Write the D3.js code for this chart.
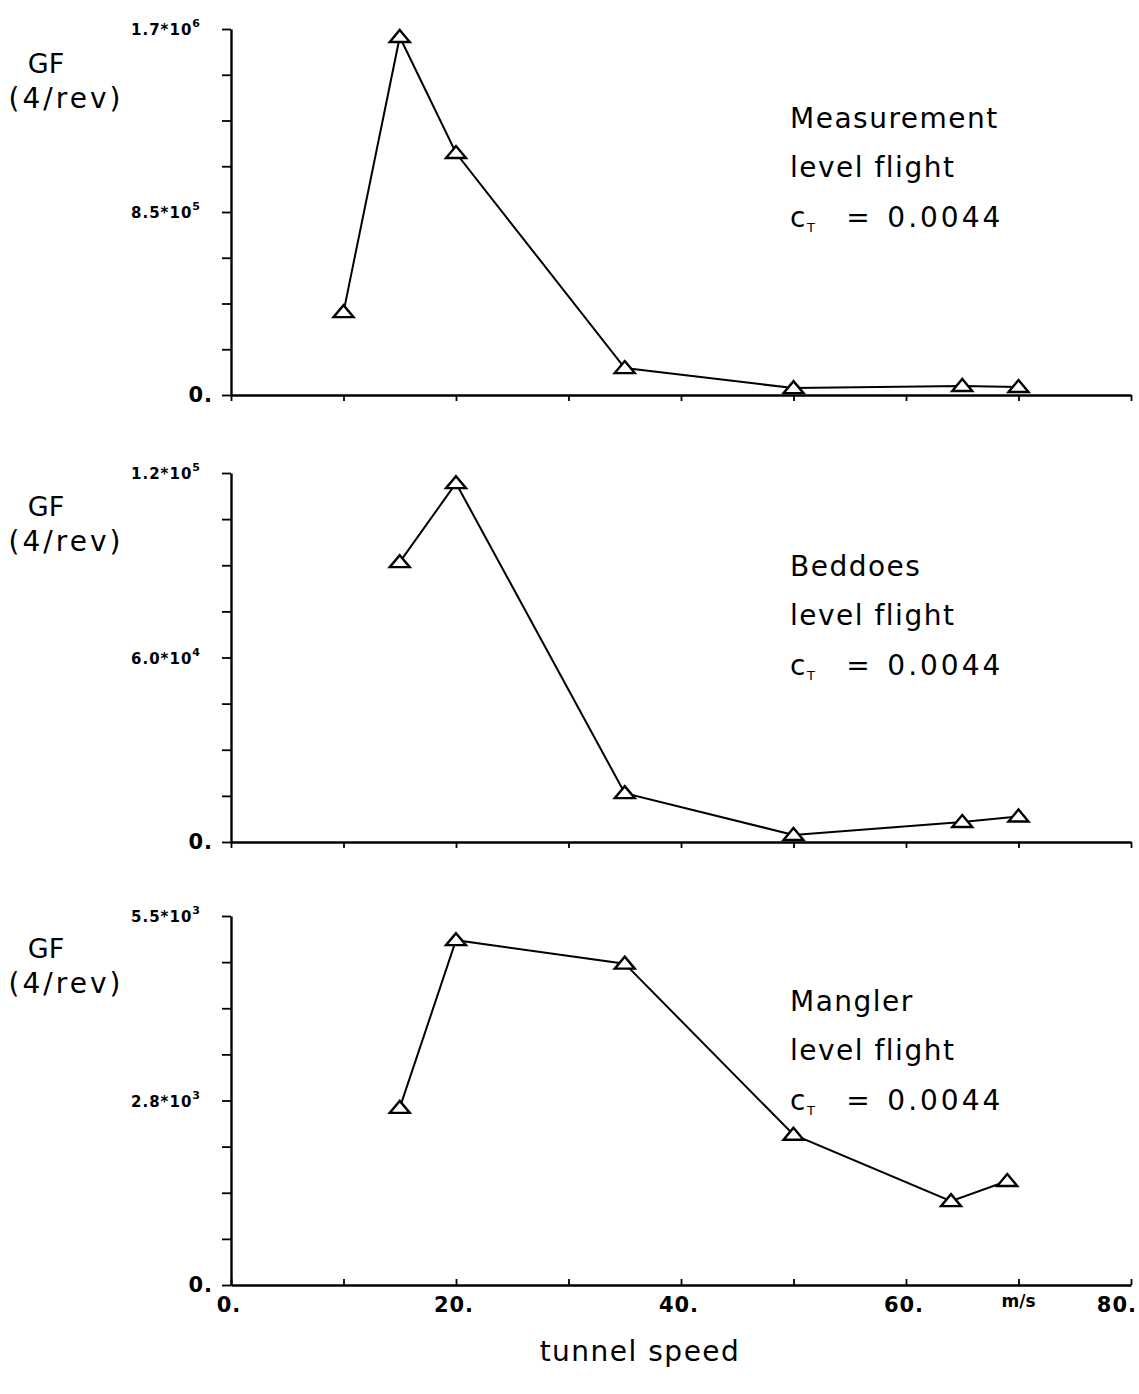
<!DOCTYPE html>
<html>
<head>
<meta charset="utf-8">
<script src="https://cdn.jsdelivr.net/npm/d3@7"></script>
<style>
  body { margin: 0; background: #fff; }
  svg text { font-family: "DejaVu Sans", sans-serif; fill: #000; }
</style>
</head>
<body>
<div id="chart"></div>
<script>
// tunnel speed axis (m/s)
var xTicks = [0, 10, 20, 30, 40, 50, 60, 70, 80];
var xLabels = ["0.", "", "20.", "", "40.", "", "60.", "", "80."];

// panel 1: measurement
var speeds1 = [10, 15, 20, 35, 50, 65, 70];
var gf1 = [385000, 1663000, 1124000, 125000, 32000, 42000, 37000];
var yMax1 = 1700000;
var yLabels1 = [["0.", ""], ["8.5*10", "5"], ["1.7*10", "6"]];
var text1 = ["Measurement", "level flight"];

// panel 2: Beddoes
var speeds2 = [15, 20, 35, 50, 65, 70];
var gf2 = [91000, 116700, 15900, 2300, 6500, 8300];
var yMax2 = 120000;
var yLabels2 = [["0.", ""], ["6.0*10", "4"], ["1.2*10", "5"]];
var text2 = ["Beddoes", "level flight"];

// panel 3: Mangler
var speeds3 = [15, 20, 35, 50, 64, 69];
var gf3 = [2640, 5140, 4790, 2240, 1250, 1550];
var yMax3 = 5500;
var yLabels3 = [["0.", ""], ["2.8*10", "3"], ["5.5*10", "3"]];
var text3 = ["Mangler", "level flight"];

var width = 1139, height = 1394;
var x0 = 231, x1 = 1131;

var svg = d3.select("#chart").append("svg")
    .attr("width", width)
    .attr("height", height);

var x = d3.scaleLinear().domain([0, 80]).range([x0, x1]);

function drawPanel(speeds, gf, yMax, yLabels, lines, top, bottom, textTop, gfTop, last) {
    var y = d3.scaleLinear().domain([0, yMax]).range([bottom, top]);
    var g = svg.append("g");

    // y axis, 8 intervals
    var yTicks = d3.range(0, 9).map(function (i) { return yMax * i / 8; });
    g.append("g")
        .attr("transform", "translate(" + x0 + ",0)")
        .call(d3.axisLeft(y).tickValues(yTicks).tickFormat("").tickSize(9).tickSizeOuter(0))
        .call(function (a) {
            a.select(".domain").attr("stroke-width", 2.4);
            a.selectAll(".tick line").attr("stroke-width", 1.8);
        });

    // x axis
    var xa = last ? d3.axisTop(x) : d3.axisBottom(x);
    g.append("g")
        .attr("transform", "translate(0," + bottom + ")")
        .call(xa.tickValues(xTicks).tickFormat("").tickSize(6).tickSizeOuter(0))
        .call(function (a) {
            a.select(".domain").attr("stroke-width", 2.4);
            a.selectAll(".tick line").attr("stroke-width", 1.8);
        });

    // y tick labels at 0, middle, top
    var labVals = [0, yMax / 2, yMax];
    labVals.forEach(function (v, i) {
        var t = g.append("text")
            .attr("x", i === 0 ? 213 : 200)
            .attr("y", y(v) + (i === 0 ? 7 : 6))
            .attr("text-anchor", "end")
            .attr("font-size", i === 0 ? 21 : 15)
            .attr("font-weight", "bold")
            .attr("letter-spacing", 1)
            .text(yLabels[i][0]);
        if (yLabels[i][1]) {
            t.append("tspan")
                .attr("dy", -8)
                .attr("font-size", 11)
                .attr("letter-spacing", 0)
                .text(yLabels[i][1]);
        }
    });

    // GF (4/rev)
    g.append("text").attr("x", 46).attr("y", gfTop).attr("text-anchor", "middle")
        .attr("font-size", 27).text("GF");
    g.append("text").attr("x", 66).attr("y", gfTop + 35).attr("text-anchor", "middle")
        .attr("font-size", 28).attr("letter-spacing", 3).text("(4/rev)");

    // data line
    var pts = speeds.map(function (s, i) { return [s, gf[i]]; });
    g.append("path")
        .datum(pts)
        .attr("fill", "none")
        .attr("stroke", "#000")
        .attr("stroke-width", 2)
        .attr("d", d3.line()
            .x(function (d) { return x(d[0]); })
            .y(function (d) { return y(d[1]); }));

    // triangle markers
    g.selectAll(".tri")
        .data(pts)
        .enter().append("path")
        .attr("class", "tri")
        .attr("transform", function (d) { return "translate(" + x(d[0]) + "," + y(d[1]) + ")"; })
        .attr("d", "M0,-7 L10,5 L-10,5 Z")
        .attr("fill", "#fff")
        .attr("stroke", "#000")
        .attr("stroke-width", 2.4);

    // annotation
    g.append("text").attr("x", 790).attr("y", textTop).attr("font-size", 28)
        .attr("letter-spacing", 1.5).text(lines[0]);
    g.append("text").attr("x", 790).attr("y", textTop + 49).attr("font-size", 28)
        .attr("letter-spacing", 1.5).text(lines[1]);
    var ct = g.append("text").attr("x", 790).attr("y", textTop + 99).attr("font-size", 28)
        .attr("letter-spacing", 1.5);
    ct.append("tspan").text("c");
    ct.append("tspan").attr("font-size", 13).attr("dy", 5).text("T");
    ct.append("tspan").attr("dy", -5).attr("dx", 30).text("=");
    ct.append("tspan").attr("dx", 16).attr("letter-spacing", 3).text("0.0044");
}

drawPanel(speeds1, gf1, yMax1, yLabels1, text1, 29, 395, 128, 73, false);
drawPanel(speeds2, gf2, yMax2, yLabels2, text2, 473, 842, 576, 516, false);
drawPanel(speeds3, gf3, yMax3, yLabels3, text3, 916, 1285, 1011, 958, true);

// x tick labels (bottom panel)
svg.selectAll(".xlab")
    .data(xTicks)
    .enter().append("text")
    .attr("class", "xlab")
    .attr("x", function (d) { return d === 80 ? x1 + 6 : x(d) - 2; })
    .attr("y", 1312)
    .attr("text-anchor", function (d) { return d === 80 ? "end" : "middle"; })
    .attr("font-size", 21)
    .attr("font-weight", "bold")
    .attr("letter-spacing", 1)
    .text(function (d, i) { return xLabels[i]; });

svg.append("text")
    .attr("x", x(70))
    .attr("y", 1307)
    .attr("text-anchor", "middle")
    .attr("font-size", 17)
    .attr("font-weight", "bold")
    .text("m/s");

svg.append("text")
    .attr("x", 640)
    .attr("y", 1361)
    .attr("text-anchor", "middle")
    .attr("font-size", 28)
    .attr("letter-spacing", 1.5)
    .text("tunnel speed");
</script>
</body>
</html>
